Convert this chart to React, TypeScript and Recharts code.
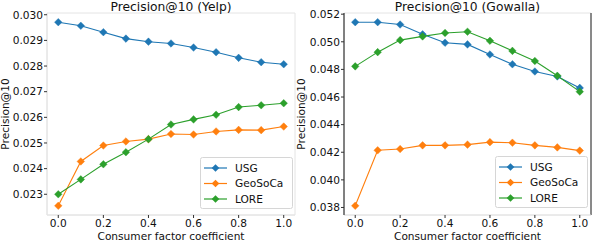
import React from 'react';
import { LineChart, Line, XAxis, YAxis, ReferenceArea, ReferenceLine, Legend, Label } from 'recharts';

const coefficients = [0, 0.1, 0.2, 0.3, 0.4, 0.5, 0.6, 0.7, 0.8, 0.9, 1.0];
const seriesNames = ['USG', 'GeoSoCa', 'LORE'];
const seriesColors = ['#1f77b4', '#ff7f0e', '#2ca02c'];

const yelpUSG = [0.02971, 0.02957, 0.02932, 0.02907, 0.02895, 0.02888, 0.02872, 0.02854, 0.02832, 0.02815, 0.02807];
const yelpGeoSoCa = [0.02255, 0.02428, 0.0249, 0.02506, 0.02515, 0.02535, 0.02533, 0.02545, 0.02551, 0.0255, 0.02564];
const yelpLORE = [0.023, 0.02358, 0.02417, 0.02464, 0.02515, 0.02572, 0.02592, 0.0261, 0.0264, 0.02647, 0.02655];

const gowallaUSG = [0.05142, 0.05142, 0.05125, 0.05054, 0.04993, 0.04981, 0.04908, 0.04837, 0.04785, 0.04749, 0.04666];
const gowallaGeoSoCa = [0.03812, 0.04214, 0.04223, 0.0425, 0.0425, 0.04255, 0.04273, 0.04269, 0.0425, 0.04235, 0.04212];
const gowallaLORE = [0.04822, 0.04925, 0.05012, 0.05039, 0.05064, 0.05073, 0.05007, 0.04934, 0.04861, 0.04754, 0.04639];

const xTicks = [0, 0.2, 0.4, 0.6, 0.8, 1.0];
const yelpTicks = [0.023, 0.024, 0.025, 0.026, 0.027, 0.028, 0.029, 0.03];
const gowallaTicks = [0.038, 0.04, 0.042, 0.044, 0.046, 0.048, 0.05, 0.052];

const FONT = 'DejaVu Sans';
const FS = 10.6;
const TEXT = '#111';
const FRAME = '#e4e4e4';

function buildRows(series: number[][]) {
  return coefficients.map((x, i) => {
    const row: any = { x };
    seriesNames.forEach((n, s) => (row[n] = series[s][i]));
    return row;
  });
}

function paddedDomain(series: number[][]): [number, number] {
  const all = series.flat();
  const lo = Math.min(...all);
  const hi = Math.max(...all);
  const m = (hi - lo) * 0.05;
  return [lo - m, hi + m];
}

const makeDot = (color: string) => (props: any) => {
  const { cx, cy, index } = props;
  if (cx == null || cy == null) return <g key={index} />;
  const r = 3.8;
  return (
    <polygon
      key={index}
      points={`${cx},${cy - r} ${cx + r},${cy} ${cx},${cy + r} ${cx - r},${cy}`}
      fill={color}
      stroke={color}
      strokeWidth={0.4}
    />
  );
};

const renderLegend = (props: any) => {
  const payload = [...(props.payload || [])].sort(
    (a: any, b: any) => seriesNames.indexOf(a.value) - seriesNames.indexOf(b.value)
  );
  const rowsY = [11, 26.5, 42];
  return (
    <svg width={93} height={52} style={{ display: 'block' }}>
      <rect x={0.5} y={0.5} width={92} height={51} rx={2} fill="#fff" fillOpacity={0.85} stroke="#d6d6d6" />
      {payload.map((e: any, i: number) => {
        const y = rowsY[i];
        const r = 3.8;
        const mx = 15.5;
        return (
          <g key={e.value}>
            <line x1={4} x2={27} y1={y} y2={y} stroke={e.color} strokeWidth={1.2} />
            <polygon points={`${mx},${y - r} ${mx + r},${y} ${mx},${y + r} ${mx - r},${y}`} fill={e.color} />
            <text x={35} y={y} dy="0.36em" fontFamily={FONT} fontSize={FS} fill={TEXT}>
              {e.value}
            </text>
          </g>
        );
      })}
    </svg>
  );
};

type PanelProps = {
  left: number;
  width: number;
  yAxisWidth: number;
  title: string;
  series: number[][];
  yTicks: number[];
  darkLeft: boolean;
  legendLeft: number;
  legendTop: number;
};

function Panel(p: PanelProps) {
  const rows = buildRows(p.series);
  const [d0, d1] = paddedDomain(p.series);
  const plotTop = 13;
  const plotW = p.width - p.yAxisWidth - 1;
  return (
    <div style={{ position: 'absolute', left: p.left, top: 0, width: p.width, height: 242 }}>
      <div
        style={{
          position: 'absolute',
          left: p.yAxisWidth,
          width: plotW,
          top: 0.6,
          textAlign: 'center',
          fontFamily: FONT,
          fontSize: 12.3,
          lineHeight: '12.3px',
          color: TEXT,
          whiteSpace: 'nowrap',
          zIndex: 2,
        }}
      >
        {p.title}
      </div>
      <LineChart
        width={p.width}
        height={242}
        data={rows}
        margin={{ top: plotTop, right: 1, bottom: 0, left: 0 }}
        style={{ fontFamily: FONT }}
      >
        <ReferenceArea x1={-0.05} x2={1.05} y1={d0} y2={d1} fill="none" stroke={FRAME} strokeWidth={1} ifOverflow="visible" />
        <XAxis
          dataKey="x"
          type="number"
          domain={[-0.05, 1.05]}
          ticks={xTicks}
          interval={0}
          allowDataOverflow
          tickFormatter={(v: number) => v.toFixed(1)}
          tickSize={3}
          tickMargin={1}
          tickLine={{ stroke: '#333' }}
          axisLine={{ stroke: FRAME }}
          height={27}
          tick={{ fontSize: FS, fill: TEXT, fontFamily: FONT }}
        >
          <Label value="Consumer factor coefficient" position="insideBottom" offset={2.5} fontSize={FS} fill={TEXT} fontFamily={FONT} />
        </XAxis>
        <YAxis
          type="number"
          domain={[d0, d1]}
          allowDataOverflow
          ticks={p.yTicks}
          interval={0}
          width={p.yAxisWidth}
          tickFormatter={(v: number) => v.toFixed(3)}
          tickSize={3}
          tickMargin={1}
          tickLine={{ stroke: '#333' }}
          axisLine={{ stroke: p.darkLeft ? '#111' : FRAME }}
          tick={{ fontSize: FS, fill: TEXT, fontFamily: FONT }}
        >
          <Label
            content={(lp: any) => {
              const vb = lp.viewBox || {};
              const cy = (vb.y ?? plotTop) + (vb.height ?? 202) / 2;
              const x = 8.8;
              return (
                <text
                  x={x}
                  y={cy}
                  transform={`rotate(-90, ${x}, ${cy})`}
                  textAnchor="middle"
                  fontFamily={FONT}
                  fontSize={FS}
                  fill={TEXT}
                >
                  Precision@10
                </text>
              );
            }}
          />
        </YAxis>
        {p.darkLeft && <ReferenceLine x={1.05} stroke="#222" ifOverflow="visible" />}
        {seriesNames.map((n, i) => (
          <Line
            key={n}
            dataKey={n}
            name={n}
            stroke={seriesColors[i]}
            strokeWidth={1.1}
            dot={makeDot(seriesColors[i])}
            activeDot={false}
            isAnimationActive={false}
            type="linear"
          />
        ))}
        <Legend
          layout="vertical"
          align="center"
          verticalAlign="middle"
          itemSorter={null as any}
          content={renderLegend}
          wrapperStyle={{ position: 'absolute', left: p.legendLeft, top: p.legendTop, width: 93, height: 52 }}
        />
      </LineChart>
    </div>
  );
}

export default function App() {
  return (
    <div style={{ position: 'absolute', left: 0, top: 0, width: 592, height: 242, background: '#fff', overflow: 'hidden' }}>
      <Panel
        left={0}
        width={296}
        yAxisWidth={47}
        title="Precision@10 (Yelp)"
        series={[yelpUSG, yelpGeoSoCa, yelpLORE]}
        yTicks={yelpTicks}
        darkLeft={false}
        legendLeft={200}
        legendTop={157}
      />
      <Panel
        left={296}
        width={296}
        yAxisWidth={48}
        title="Precision@10 (Gowalla)"
        series={[gowallaUSG, gowallaGeoSoCa, gowallaLORE]}
        yTicks={gowallaTicks}
        darkLeft={true}
        legendLeft={199}
        legendTop={156}
      />
    </div>
  );
}
